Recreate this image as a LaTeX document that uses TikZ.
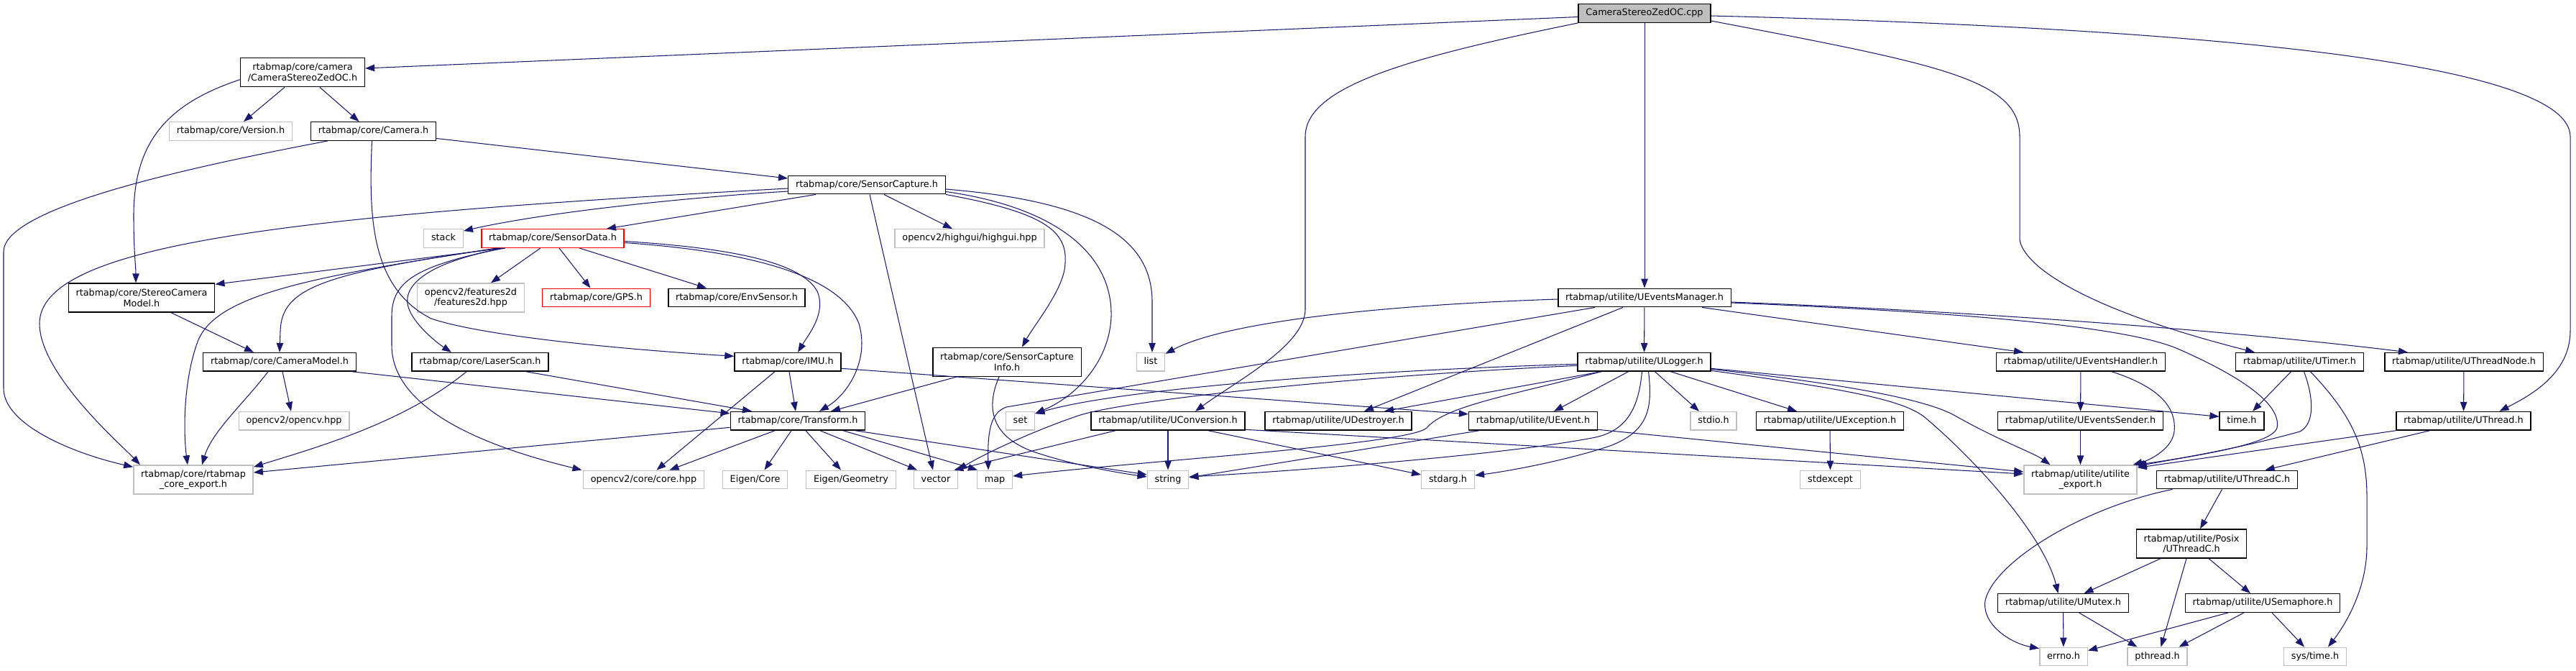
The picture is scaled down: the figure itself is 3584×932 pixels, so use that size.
\documentclass[tikz,border=0pt]{standalone}
\usepackage{fontspec}
\setmainfont{DejaVu Sans}
\usetikzlibrary{arrows.meta}
\definecolor{edgeblue}{HTML}{191970}
\definecolor{extgray}{HTML}{BFBFBF}
\definecolor{rootgray}{HTML}{BFBFBF}
\tikzset{
  base/.style={draw=black, line width=1.4pt, fill=white, inner xsep=10.3pt, inner ysep=0pt,
    minimum height=25.5pt, align=center, font={\fontsize{12.8}{14.5}\selectfont}},
  nd/.style={base, text height=9.6pt, text depth=3pt},
  nd2/.style={base, minimum height=40pt},
  ext/.style={nd, draw=extgray},
  ext2/.style={nd2, draw=extgray},
  rednd/.style={nd, draw=red},
  root/.style={nd, fill=rootgray},
  edge/.style={draw=edgeblue, line width=1.05pt, -{Triangle[length=13pt,width=9.5pt]}}
}
\begin{document}
\begin{tikzpicture}[x=1pt,y=-1pt]
\fill[white] (0,0) rectangle (3584,932);
\useasboundingbox (0,0) rectangle (3584,932);

% nodes
\node[root] (cpp) at (2288,18.5) {CameraStereoZedOC.cpp};
\node[nd2] (zedh) at (421,100.7) {rtabmap/core/camera\\/CameraStereoZedOC.h};
\node[ext] (version) at (321,182.5) {rtabmap/core/Version.h};
\node[nd] (camera) at (519.5,182.5) {rtabmap/core/Camera.h};
\node[nd] (scap) at (1206,257) {rtabmap/core/SensorCapture.h};
\node[ext] (stack) at (617,331.5) {stack};
\node[rednd] (sdata) at (769,331.5) {rtabmap/core/SensorData.h};
\node[ext] (highgui) at (1349,331.5) {opencv2/highgui/highgui.hpp};
\node[nd2] (scm) at (197,414) {rtabmap/core/StereoCamera\\Model.h};
\node[ext2] (f2d) at (655,414) {opencv2/features2d\\/features2d.hpp};
\node[rednd] (gps) at (829.5,414) {rtabmap/core/GPS.h};
\node[nd] (env) at (1025,414) {rtabmap/core/EnvSensor.h};
\node[nd] (uem) at (2288,414) {rtabmap/utilite/UEventsManager.h};
\node[nd] (cmodel) at (389,503.3) {rtabmap/core/CameraModel.h};
\node[nd] (laser) at (668,503.3) {rtabmap/core/LaserScan.h};
\node[nd] (imu) at (1096,503.3) {rtabmap/core/IMU.h};
\node[nd2] (sci) at (1401,503.3) {rtabmap/core/SensorCapture\\Info.h};
\node[ext] (list) at (1601,503.3) {list};
\node[nd] (ulogger) at (2287.5,503.3) {rtabmap/utilite/ULogger.h};
\node[nd] (uehandler) at (2895,503.3) {rtabmap/utilite/UEventsHandler.h};
\node[nd] (utimer) at (3199.5,503.3) {rtabmap/utilite/UTimer.h};
\node[nd] (uthreadnode) at (3428,503.3) {rtabmap/utilite/UThreadNode.h};
\node[ext] (opencv) at (409,585.3) {opencv2/opencv.hpp};
\node[nd] (transform) at (1110,585.3) {rtabmap/core/Transform.h};
\node[ext] (set) at (1419.5,585.3) {set};
\node[nd] (uconv) at (1625,585.3) {rtabmap/utilite/UConversion.h};
\node[nd] (udestroyer) at (1862,585.3) {rtabmap/utilite/UDestroyer.h};
\node[nd] (uevent) at (2133,585.3) {rtabmap/utilite/UEvent.h};
\node[ext] (stdio) at (2384,585.3) {stdio.h};
\node[nd] (uexception) at (2546,585.3) {rtabmap/utilite/UException.h};
\node[nd] (uesender) at (2894.5,585.3) {rtabmap/utilite/UEventsSender.h};
\node[nd] (timeh) at (3119,585.3) {time.h};
\node[nd] (uthread) at (3427.5,585.3) {rtabmap/utilite/UThread.h};
\node[ext2] (coreexp) at (269,667) {rtabmap/core/rtabmap\\\_core\_export.h};
\node[ext] (corehpp) at (895.5,667) {opencv2/core/core.hpp};
\node[ext] (eigencore) at (1050.5,667) {Eigen/Core};
\node[ext] (eigengeo) at (1184,667) {Eigen/Geometry};
\node[ext] (vector) at (1302,667) {vector};
\node[ext] (map) at (1384,667) {map};
\node[ext] (string) at (1625,667) {string};
\node[ext] (stdarg) at (2014.5,667) {stdarg.h};
\node[ext] (stdexcept) at (2546.5,667) {stdexcept};
\node[ext2] (utexp) at (2894.5,667) {rtabmap/utilite/utilite\\\_export.h};
\node[nd] (uthreadc) at (3098.5,667) {rtabmap/utilite/UThreadC.h};
\node[nd2] (posix) at (3049,756) {rtabmap/utilite/Posix\\/UThreadC.h};
\node[nd] (umutex) at (2870.5,838.5) {rtabmap/utilite/UMutex.h};
\node[nd] (usem) at (3148,838.5) {rtabmap/utilite/USemaphore.h};
\node[ext] (errno) at (2871,913) {errno.h};
\node[ext] (pthread) at (3001.5,913) {pthread.h};
\node[ext] (systime) at (3221,913) {sys/time.h};

% cpp
\draw[edge] ([yshift=-5]cpp.west) -- ([yshift=5.7]zedh.east);
\draw[edge] (cpp.south west) .. controls (1960,80) and (1816,120) .. (1816,190) -- (1816,430) .. controls (1816,480) and (1720,530) .. ([xshift=38]uconv.north);
\draw[edge] (cpp) -- (uem);
\draw[edge] ([yshift=3]cpp.south east) .. controls (2700,90) and (2810,110) .. (2810,190) -- (2810,333) .. controls (2815,370) and (2900,430) .. ([xshift=-62.5]utimer.north);
\draw[edge] ([yshift=-3.5]cpp.east) .. controls (3100,40) and (3576,90) .. (3576,190) -- (3576,460) .. controls (3576,520) and (3520,550) .. ([xshift=50]uthread.north);

% zedh
\draw[edge] ([xshift=-25]zedh.south) -- ([xshift=18]version.north);
\draw[edge] ([xshift=24]zedh.south) -- ([xshift=-20]camera.north);
\draw[edge] ([yshift=-10]zedh.west) .. controls (230,145) and (186,200) .. (186,300) .. controls (186,350) and (189,370) .. ([xshift=-8]scm.north);

% camera
\draw[edge] ([xshift=-63.5]camera.south) .. controls (250,235) and (5,290) .. (5,350) -- (5,540) .. controls (5,590) and (100,630) .. ([yshift=-3]coreexp.north west);
\draw[edge] ([yshift=-10]camera.east) -- ([yshift=9]scap.west);
\draw[edge] ([xshift=-2]camera.south) .. controls (513,300) and (515,400) .. (600,443) .. controls (680,470) and (900,488) .. ([yshift=8]imu.west);

% sensor capture
\draw[edge] ([yshift=-9]scap.west) .. controls (950,275) and (760,295) .. ([yshift=-3]stack.north east);
\draw[edge] ([xshift=-71]scap.south) -- ([xshift=75]sdata.north);
\draw[edge] ([yshift=-5]scap.west) .. controls (400,300) and (55,340) .. (55,450) .. controls (55,520) and (170,620) .. ([xshift=-74]coreexp.north);
\draw[edge] ([xshift=24]scap.south) -- ([xshift=-24]highgui.north);
\draw[edge] ([xshift=4]scap.south) -- ([xshift=-4]vector.north);
\draw[edge] (scap.south east) .. controls (1450,295) and (1485,320) .. (1482,365) .. controls (1482,400) and (1440,450) .. ([xshift=21]sci.north);
\draw[edge] ([yshift=4]scap.south east) .. controls (1480,290) and (1548,360) .. (1546,440) .. controls (1544,500) and (1500,550) .. ([yshift=-3]set.north east);
\draw[edge] ([yshift=-6]scap.east) .. controls (1520,280) and (1603,330) .. (1603,420) -- ([xshift=2]list.north);

% sensor data
\draw[edge] ([xshift=-69]sdata.south) -- ([yshift=-2]scm.north east);
\draw[edge] ([xshift=-75]sdata.south) .. controls (450,380) and (392,400) .. (390,460) -- (cmodel.north);
\draw[edge] ([xshift=-77]sdata.south) .. controls (430,385) and (300,410) .. (275,475) .. controls (255,530) and (255,600) .. ([xshift=-8]coreexp.north);
\draw[edge] ([xshift=-70]sdata.south) .. controls (580,370) and (545,390) .. (545,440) -- (545,480) .. controls (545,560) and (650,615) .. ([xshift=-86]corehpp.north);
\draw[edge] ([xshift=-66]sdata.south) .. controls (590,365) and (555,400) .. (570,432) .. controls (580,455) and (610,478) .. ([xshift=-40]laser.north);
\draw[edge] ([xshift=-17]sdata.south) -- ([xshift=28]f2d.north);
\draw[edge] ([xshift=9]sdata.south) -- ([xshift=-8]gps.north);
\draw[edge] ([xshift=37]sdata.south) -- ([xshift=-42]env.north);
\draw[edge] ([yshift=-4]sdata.east) .. controls (1020,345) and (1115,365) .. (1137,405) .. controls (1150,435) and (1125,465) .. ([xshift=14]imu.north);
\draw[edge] ([yshift=-6]sdata.east) .. controls (1050,350) and (1170,385) .. (1195,450) .. controls (1210,500) and (1180,548) .. ([xshift=30]transform.north);

% stereo camera model, camera model, laser scan
\draw[edge] ([xshift=41]scm.south) -- ([xshift=-36]cmodel.north);
\draw[edge] ([xshift=-16]cmodel.south) .. controls (340,560) and (295,600) .. ([xshift=12]coreexp.north);
\draw[edge] ([xshift=4]cmodel.south) -- ([xshift=-4]opencv.north);
\draw[edge] ([xshift=-6]cmodel.south east) -- ([yshift=-3]transform.north west);
\draw[edge] ([xshift=-19]laser.south) .. controls (560,590) and (430,625) .. ([yshift=-3]coreexp.north east);
\draw[edge] ([xshift=64]laser.south) -- ([xshift=-64]transform.north);

% imu
\draw[edge] ([xshift=-18]imu.south) -- ([xshift=18]corehpp.north);
\draw[edge] ([xshift=2]imu.south) -- ([xshift=-3]transform.north);
\draw[edge] ([yshift=-9]imu.east) -- ([yshift=-4]uevent.north west);

% sensor capture info
\draw[edge] ([xshift=-70]sci.south) -- ([xshift=46]transform.north);
\draw[edge] ([xshift=-11]sci.south) .. controls (1370,570) and (1380,612) .. (1450,632) .. controls (1500,648) and (1560,658) .. ([yshift=4]string.west);

% transform
\draw[edge] ([yshift=-9]transform.west) -- ([yshift=10]coreexp.east);
\draw[edge] ([xshift=-32]transform.south) -- ([xshift=36]corehpp.north);
\draw[edge] ([xshift=-9]transform.south) -- ([xshift=13]eigencore.north);
\draw[edge] ([xshift=11]transform.south) -- ([xshift=-14]eigengeo.north);
\draw[edge] ([xshift=31]transform.south) -- ([xshift=-26]vector.north);
\draw[edge] ([xshift=63]transform.south) -- ([xshift=-24]map.north);
\draw[edge] ([xshift=80]transform.south) -- ([yshift=7]string.west);

% uconversion
\draw[edge] ([xshift=-73]uconv.south) -- ([xshift=-6]vector.north east);
\draw[edge] (uconv) -- (string);
\draw[edge] ([xshift=56]uconv.south) -- ([yshift=7]stdarg.west);
\draw[edge] ([yshift=-12]uconv.east) -- ([yshift=8]utexp.west);

% uevent
\draw[edge] ([yshift=-12]uevent.east) -- ([yshift=11]utexp.west);
\draw[edge] ([xshift=-75]uevent.south) -- ([yshift=3]string.east);

% events manager
\draw[edge] ([yshift=-2]uem.west) .. controls (1900,425) and (1700,450) .. ([yshift=-2]list.north east);
\draw[edge] ([xshift=-69]uem.south) -- (1400,566) .. controls (1378,574) and (1374,600) .. ([xshift=-9]map.north);
\draw[edge] ([xshift=-30]uem.south) -- ([xshift=36]udestroyer.north);
\draw[edge] (uem) -- (ulogger);
\draw[edge] ([xshift=80]uem.south) -- ([xshift=-80]uehandler.north);
\draw[edge] ([yshift=-6]uem.east) .. controls (2800,435) and (3150,465) .. ([xshift=-78]uthreadnode.north);
\draw[edge] ([yshift=-7]uem.east) .. controls (2750,435) and (2960,455) .. (3030,485) .. controls (3110,520) and (3175,560) .. (3168,595) .. controls (3160,620) and (3040,635) .. ([yshift=-2]utexp.north east);

% logger
\draw[edge] ([yshift=-3]ulogger.west) .. controls (1900,515) and (1560,540) .. ([yshift=10]set.east);
\draw[edge] ([yshift=-5]ulogger.west) .. controls (1900,522) and (1570,555) .. (1500,578) .. controls (1450,595) and (1380,625) .. ([xshift=-1]vector.north east);
\draw[edge] ([xshift=-60]ulogger.south) .. controls (2100,550) and (2010,565) .. (1985,595) .. controls (1960,618) and (1600,640) .. ([yshift=5]map.east);
\draw[edge] ([xshift=-3]ulogger.south) .. controls (2280,565) and (2265,598) .. (2220,608) .. controls (2100,632) and (1800,655) .. ([yshift=4]string.east);
\draw[edge] ([xshift=-60]ulogger.south) -- ([xshift=64]udestroyer.north);
\draw[edge] ([xshift=-22]ulogger.south) -- ([xshift=29]uevent.north);
\draw[edge] ([xshift=6]ulogger.south) .. controls (2300,570) and (2292,600) .. (2240,620) .. controls (2180,640) and (2100,655) .. ([yshift=6]stdarg.east);
\draw[edge] ([xshift=15]ulogger.south) -- ([xshift=-20]stdio.north);
\draw[edge] ([xshift=37]ulogger.south) -- ([xshift=-46]uexception.north);
\draw[edge] ([yshift=-9]ulogger.east) -- ([yshift=6]timeh.west);
\draw[edge] ([yshift=-10]ulogger.east) .. controls (2560,533) and (2680,555) .. (2720,578) .. controls (2780,612) and (2830,630) .. ([xshift=-42]utexp.north);
\draw[edge] ([yshift=-12]ulogger.east) .. controls (2560,540) and (2650,555) .. (2680,582) .. controls (2760,650) and (2845,750) .. ([xshift=-7]umutex.north);

% right part
\draw[edge] (uexception) -- (stdexcept);
\draw[edge] (uehandler) -- (uesender);
\draw[edge] ([xshift=43]uehandler.south) .. controls (3010,540) and (3028,570) .. (3025,600) .. controls (3022,625) and (2990,640) .. ([xshift=73]utexp.north);
\draw[edge] (uesender) -- (utexp);
\draw[edge] ([xshift=-12]utimer.south) -- ([xshift=15]timeh.north);
\draw[edge] ([xshift=6]utimer.south) .. controls (3218,550) and (3222,588) .. (3200,600) .. controls (3110,625) and (3020,640) .. ([xshift=-3]utexp.north east);
\draw[edge] ([xshift=15]utimer.south) .. controls (3270,575) and (3293,620) .. (3293,690) -- (3293,760) .. controls (3293,820) and (3262,870) .. ([xshift=18]systime.north);
\draw[edge] (uthreadnode) -- (uthread);
\draw[edge] (uthread.south west) -- ([yshift=-4]utexp.north east);
\draw[edge] ([xshift=-47]uthread.south) -- ([xshift=53]uthreadc.north);
\draw[edge] ([xshift=-76]uthreadc.south) .. controls (2900,705) and (2775,780) .. (2762,835) .. controls (2757,870) and (2800,895) .. ([yshift=-2]errno.north west);
\draw[edge] ([xshift=-7]uthreadc.south) -- ([xshift=12]posix.north);
\draw[edge] ([xshift=-43]posix.south) -- ([xshift=29]umutex.north);
\draw[edge] ([xshift=-7]posix.south) -- ([xshift=5]pthread.north);
\draw[edge] ([xshift=24]posix.south) -- ([xshift=-17]usem.north);
\draw[edge] (umutex) -- (errno);
\draw[edge] ([xshift=22]umutex.south) -- ([xshift=-28]pthread.north);
\draw[edge] ([xshift=-48]usem.south) -- ([yshift=-5]errno.north east);
\draw[edge] ([xshift=-26]usem.south) -- ([xshift=30]pthread.north);
\draw[edge] ([xshift=13]usem.south) -- ([xshift=-15]systime.north);
\end{tikzpicture}
\end{document}
